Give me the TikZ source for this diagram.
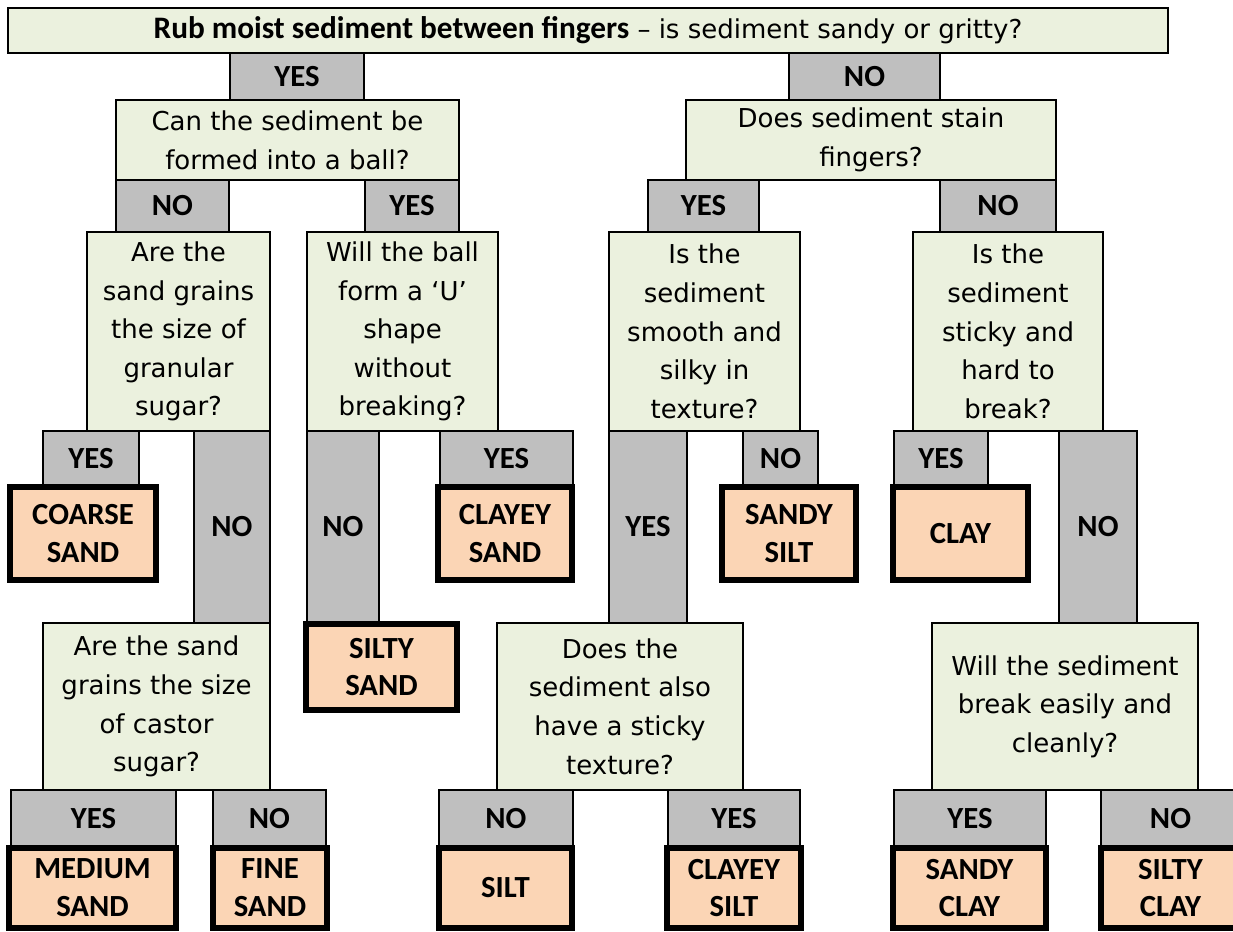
\documentclass[tikz,border=0pt]{standalone}
\usepackage{fontspec}
\setmainfont{DejaVu Sans}
\newfontfamily\labelfont{Carlito}

\definecolor{qgreen}{RGB}{235,241,222}
\definecolor{ansgray}{RGB}{191,191,191}
\definecolor{respeach}{RGB}{251,213,181}

\begin{document}
\begin{tikzpicture}[
      x=0.02cm, y=-0.02cm,
      span/.style n args={4}{at={({(#1+#3)/2},{(#2+#4)/2})}, minimum width={(#3-#1)*0.02cm}, minimum height={(#4-#2)*0.02cm}},
      question/.style={draw=black, line width=1.1pt, fill=qgreen, inner sep=0pt, align=center, font=\fontsize{14.8}{22}\selectfont},
      answer/.style={draw=black, line width=1.1pt, fill=ansgray, inner sep=0pt, align=center, font=\labelfont\bfseries\fontsize{17.5}{21.6}\selectfont},
      result/.style={draw=black, line width=3pt, fill=respeach, inner sep=0pt, align=center, font=\labelfont\bfseries\fontsize{17.5}{21.6}\selectfont}
  ]
      \useasboundingbox[fill=white] (0,0) rectangle (1233,931);

      % top question and first split
      \node[question, span={8}{8}{1168}{53}] (rub) {{\labelfont\bfseries\fontsize{17.8}{21.6}\selectfont Rub moist sediment between fingers} – is sediment sandy or gritty?};
      \node[answer, span={230}{53}{364}{100}] (gritYes) {YES};
      \node[answer, span={789}{53}{940}{100}] (gritNo) {NO};

      \node[question, span={116}{100}{459}{180}] (ball) {Can the sediment be\\formed into a ball?};
      \node[question, span={686}{100}{1056}{180}] (stain) {Does sediment stain\\fingers?};
      \node[answer, span={116}{180}{229}{232}] (ballNo) {NO};
      \node[answer, span={365}{180}{459}{232}] (ballYes) {YES};
      \node[answer, span={648}{180}{759}{232}] (stainYes) {YES};
      \node[answer, span={940}{180}{1056}{232}] (stainNo) {NO};

      % third row of questions
      \node[question, span={87}{232}{270}{431}] (granular) {Are the\\sand grains\\the size of\\granular\\sugar?};
      \node[question, span={307}{232}{498}{431}] (ushape) {Will the ball\\form a ‘U’\\shape\\without\\breaking?};
      \node[question, span={609}{232}{800}{431}] (silky) {Is the\\sediment\\smooth and\\silky in\\texture?};
      \node[question, span={913}{232}{1103}{431}] (sticky) {Is the\\sediment\\sticky and\\hard to\\break?};

      \node[answer, span={43}{431}{139}{486}] (granularYes) {YES};
      \node[answer, span={194}{431}{270}{623}] (granularNo) {NO};
      \node[result, span={10}{487}{156}{580}] (coarse) {COARSE\\SAND};

      \node[answer, span={307}{431}{379}{623}] (ushapeNo) {NO};
      \node[answer, span={440}{431}{573}{486}] (ushapeYes) {YES};
      \node[result, span={438}{487}{572}{580}] (clayeySand) {CLAYEY\\SAND};
      \node[result, span={306}{624}{457}{710}] (siltySand) {SILTY\\SAND};

      \node[answer, span={609}{431}{687}{623}] (silkyYes) {YES};
      \node[answer, span={743}{431}{818}{486}] (silkyNo) {NO};
      \node[result, span={722}{487}{856}{580}] (sandySilt) {SANDY\\SILT};

      \node[answer, span={894}{431}{988}{486}] (stickyYes) {YES};
      \node[result, span={893}{487}{1028}{580}] (clay) {CLAY};
      \node[answer, span={1059}{431}{1137}{623}] (stickyNo) {NO};

      % bottom row of questions
      \node[question, span={43}{623}{270}{790}] (castor) {Are the sand\\grains the size\\of castor\\sugar?};
      \node[question, span={497}{623}{743}{790}] (alsoSticky) {Does the\\sediment also\\have a sticky\\texture?};
      \node[question, span={932}{623}{1198}{790}] (cleanly) {Will the sediment\\break easily and\\cleanly?};

      \node[answer, span={11}{790}{176}{847}] (castorYes) {YES};
      \node[answer, span={213}{790}{326}{847}] (castorNo) {NO};
      \node[result, span={9}{848}{176}{928}] (medium) {MEDIUM\\SAND};
      \node[result, span={213}{848}{327}{928}] (fine) {FINE\\SAND};

      \node[answer, span={439}{790}{573}{847}] (alsoNo) {NO};
      \node[answer, span={668}{790}{800}{847}] (alsoYes) {YES};
      \node[result, span={439}{848}{572}{928}] (silt) {SILT};
      \node[result, span={667}{848}{801}{928}] (clayeySilt) {CLAYEY\\SILT};

      \node[answer, span={894}{790}{1046}{847}] (cleanYes) {YES};
      \node[answer, span={1101}{790}{1240}{847}] (cleanNo) {NO};
      \node[result, span={893}{848}{1046}{928}] (sandyClay) {SANDY\\CLAY};
      \node[result, span={1101}{848}{1240}{928}] (siltyClay) {SILTY\\CLAY};
  \end{tikzpicture}
\end{document}
